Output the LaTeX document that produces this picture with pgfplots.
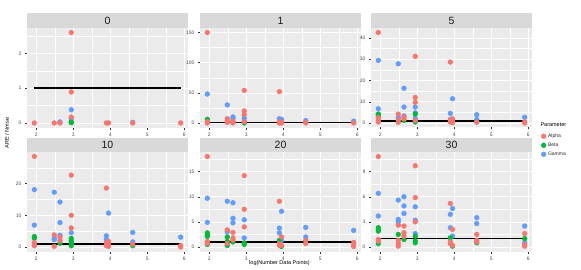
\documentclass[border=0pt]{standalone}
\usepackage{pgfplots}
\pgfplotsset{compat=1.18}
\usepackage{fontspec}
\setmainfont{Liberation Sans}
\definecolor{alphac}{HTML}{F8766D}
\definecolor{betac}{HTML}{00BA38}
\definecolor{gammac}{HTML}{619CFF}
\definecolor{panelbg}{HTML}{EBEBEB}
\definecolor{stripbg}{HTML}{D9D9D9}
\definecolor{ticktext}{HTML}{4D4D4D}
\definecolor{tickc}{HTML}{333333}
\definecolor{striptext}{HTML}{1A1A1A}
\pgfplotsset{
 panel/.style={scale only axis, width=161pt, height=99.5pt, anchor=north west,
  axis background/.style={fill=panelbg},
  axis line style={draw=none},
  xmin=1.748, xmax=6.098, xtick={2,3,4,5,6}, minor xtick={2.5,3.5,4.5,5.5},
  grid=both, major grid style={white, line width=0.55pt}, minor grid style={white, line width=0.3pt},
  tick align=outside, xtick pos=bottom, ytick pos=left, major tick length=2pt, minor tick length=0pt,
  tick style={tickc, line width=0.4pt},
  ticklabel style={font=\fontsize{5}{6}\selectfont, text=ticktext},
  /pgf/number format/assume math mode=true,
 },
 aP/.style={only marks, mark=*, mark size=2.4pt, color=alphac},
 bP/.style={only marks, mark=*, mark size=2.4pt, color=betac},
 gP/.style={only marks, mark=*, mark size=2.4pt, color=gammac},
 refl/.style={black, line width=1.5pt},
}
\newcommand{\strip}[2]{%
 \fill[stripbg] (#1.north west) rectangle ([yshift=14.5pt]#1.north east);
 \node[font=\fontsize{10.5}{12}\selectfont, text=striptext] at ([yshift=7.25pt]#1.north) {#2};}
\begin{document}
\begin{tikzpicture}
\useasboundingbox (0,0) rectangle (581pt,-270pt);
% ---------- panel 0
\begin{axis}[panel, name=p0, at={(27pt,-28pt)}, ymin=-0.13, ymax=2.73, ytick={0,1,2}, minor ytick={0.5,1.5,2.5}]
\addplot[gP] coordinates {(2.639,0.03) (2.944,0.38) (2.944,0.12) (4.605,0.02)};
\addplot[bP] coordinates {(2.944,0.03) (2.944,0.01)};
\addplot[aP] coordinates {(1.946,0) (2.485,0) (2.639,0) (2.944,2.60) (2.944,0.89) (2.944,0.17) (3.892,0) (3.951,0) (4.605,0) (5.900,0)};
\addplot[refl] coordinates {(1.946,1) (5.900,1)};
\end{axis}
% ---------- panel 1
\begin{axis}[panel, name=p1, at={(200pt,-28pt)}, ymin=-7.5, ymax=157.5, ytick={0,50,100,150}, minor ytick={25,75,125}]
\addplot[gP] coordinates {(1.946,48) (2.485,30) (2.639,10) (2.639,7) (2.944,8) (2.944,3) (3.892,7) (3.951,6) (4.605,4) (5.900,3)};
\addplot[bP] coordinates {(1.946,6) (2.639,1) (2.944,0)};
\addplot[aP] coordinates {(1.946,150) (1.946,2) (1.946,0) (2.485,7) (2.485,3) (2.485,1) (2.639,3) (2.639,0) (2.944,54) (2.944,20) (2.944,14) (2.944,2) (3.892,52) (3.892,2) (3.892,0) (3.951,1) (3.951,0) (4.605,1) (4.605,0) (5.900,0)};
\addplot[refl] coordinates {(1.946,1) (5.900,1)};
\end{axis}
% ---------- panel 5
\begin{axis}[panel, name=p5, at={(371pt,-28pt)}, ymin=-2.1, ymax=44.6, ytick={0,10,20,30,40}, minor ytick={5,15,25,35},
  legend style={at={(1.05,-0.03)}, anchor=north west, draw=none, fill=none, font=\fontsize{5}{6}\selectfont, text=ticktext!50!black, row sep=0pt, inner sep=1pt},
  legend cell align=left]
\addlegendimage{aP}\addlegendentry{Alpha}
\addlegendimage{bP}\addlegendentry{Beta}
\addlegendimage{gP}\addlegendentry{Gamma}
\addplot[gP, forget plot] coordinates {(1.946,29.4) (1.946,6.7) (2.485,27.8) (2.485,2.5) (2.639,16.3) (2.639,7.5) (2.639,3.3) (2.944,7.5) (2.944,4.8) (2.944,2.2) (3.892,4.5) (3.892,1.7) (3.951,11.4) (4.605,3.9) (4.605,1.7) (5.900,2.7)};
\addplot[bP, forget plot] coordinates {(1.946,4.2) (1.946,3.3) (1.946,3.8) (2.639,1.2) (2.944,4.2) (2.944,0.5) (4.605,0.5)};
\addplot[aP, forget plot] coordinates {(1.946,42.5) (1.946,2.5) (1.946,1.2) (1.946,0.5) (2.485,4.2) (2.485,1.3) (2.485,0.3) (2.639,2.8) (2.639,2) (2.944,31.3) (2.944,12) (2.944,9.7) (2.944,1.2) (3.892,28.6) (3.892,1.2) (3.892,0.5) (3.951,2) (3.951,0.9) (3.951,0.1) (4.605,0.5) (5.900,0.5) (5.900,0)};
\addplot[refl, forget plot] coordinates {(1.946,1) (5.900,1)};
\end{axis}
% ---------- panel 10
\begin{axis}[panel, name=p10, at={(27pt,-152pt)}, ymin=-1.43, ymax=30, ytick={0,10,20}, minor ytick={5,15,25}]
\addplot[gP] coordinates {(1.946,18.1) (1.946,6.9) (2.485,17.3) (2.485,2.8) (2.485,2.3) (2.639,14.2) (2.639,7.7) (2.639,3.7) (2.944,4.5) (2.944,1.5) (3.892,3.5) (3.892,2.3) (3.951,10.7) (4.605,4.6) (4.605,1.6) (5.900,3.1)};
\addplot[bP] coordinates {(1.946,3.3) (1.946,2.8) (2.639,1.2) (2.944,2.7) (2.944,2) (2.944,1) (2.944,0.4) (4.605,0.4)};
\addplot[aP] coordinates {(1.946,28.6) (1.946,1.4) (1.946,0.7) (1.946,0.4) (2.485,3.8) (2.485,0.2) (2.639,3.1) (2.639,2) (2.944,22.7) (2.944,10) (2.944,6) (3.892,18.6) (3.892,1.2) (3.892,0.4) (3.951,1.8) (3.951,0.9) (3.951,0.2) (4.605,0.9) (5.900,0.4) (5.900,0)};
\addplot[refl] coordinates {(1.946,1) (5.900,1)};
\end{axis}
% ---------- panel 20
\begin{axis}[panel, name=p20, at={(200pt,-152pt)}, ymin=-0.9, ymax=18.9, ytick={0,5,10,15}, minor ytick={2.5,7.5,12.5,17.5}]
\addplot[gP] coordinates {(1.946,9.7) (1.946,4.9) (2.485,9.1) (2.485,3) (2.639,8.8) (2.639,5.7) (2.639,4.8) (2.944,5.4) (2.944,1.8) (3.892,3.75) (3.892,2.8) (3.951,7.1) (3.951,1.3) (4.605,3.9) (4.605,2) (5.900,3.3)};
\addplot[bP] coordinates {(1.946,2.8) (1.946,2.4) (1.946,2.1) (1.946,0.5) (2.485,2) (2.485,1.1) (2.485,0.3) (2.639,1) (2.944,0.8) (2.944,0.5) (3.892,1.3) (3.951,0.1)};
\addplot[aP] coordinates {(1.946,18) (1.946,1.1) (1.946,0.7) (2.485,3.4) (2.485,0.7) (2.639,2.9) (2.639,1.8) (2.639,1.4) (2.944,14.2) (2.944,7.5) (2.944,4) (3.892,9.1) (3.892,0.7) (3.892,0.3) (3.951,2) (3.951,0.3) (4.605,1.3) (4.605,0.7) (5.900,0.9) (5.900,0.5) (5.900,0.1)};
\addplot[refl] coordinates {(1.946,1) (5.900,1)};
\end{axis}
% ---------- panel 30
\begin{axis}[panel, name=p30, at={(371pt,-152pt)}, ymin=-0.54, ymax=11.34, ytick={0,3,6,9}, minor ytick={1.5,4.5,7.5,10.5}]
\addplot[gP] coordinates {(1.946,6.4) (1.946,3.7) (2.485,5.6) (2.485,3.3) (2.485,3.0) (2.639,6.0) (2.639,4.9) (2.639,4.0) (2.944,4.8) (2.944,3.2) (2.944,1.6) (3.892,3.9) (3.892,2.3) (3.951,4.6) (3.951,1.3) (4.605,3.5) (4.605,2.8) (5.900,2.5) (5.900,0.5)};
\addplot[bP] coordinates {(1.946,2.3) (1.946,2.1) (1.946,1.9) (1.946,0.4) (2.485,1.5) (2.639,0.9) (2.944,1.3) (2.944,0.7) (2.944,0.5) (3.892,1.1) (3.951,0.1) (4.605,0.5) (5.900,1.0)};
\addplot[aP] coordinates {(1.946,10.8) (1.946,0.9) (1.946,0.7) (2.485,2.6) (2.485,0.8) (2.485,0.4) (2.485,0.1) (2.639,2.5) (2.639,1.7) (2.639,1.3) (2.944,9.7) (2.944,5.9) (2.944,3.0) (3.892,5.2) (3.892,0.6) (3.892,0.4) (3.951,2.1) (3.951,0.2) (4.605,1.5) (4.605,0.8) (4.605,0.6) (5.900,1.6) (5.900,0.3) (5.900,0.1)};
\addplot[refl] coordinates {(1.946,1) (5.900,1)};
\end{axis}
\strip{p0}{0}\strip{p1}{1}\strip{p5}{5}
\strip{p10}{10}\strip{p20}{20}\strip{p30}{30}
\node[font=\fontsize{5.5}{6.5}\selectfont, anchor=west] at (537pt,-125pt) {Parameter};
\node[font=\fontsize{5.5}{6.5}\selectfont, rotate=90] at (7pt,-133pt) {ARE / Nmse};
\node[font=\fontsize{5.5}{6.5}\selectfont] at (279.5pt,-263pt) {log(Number Data Points)};
\end{tikzpicture}
\end{document}
